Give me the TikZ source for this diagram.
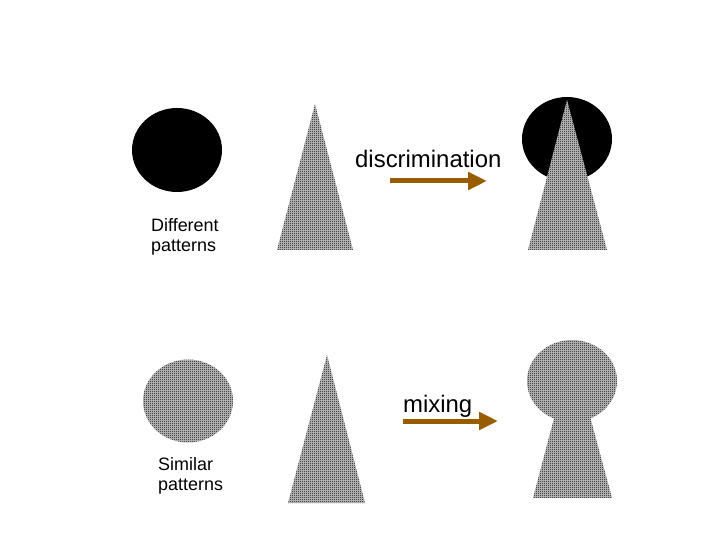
\documentclass[tikz,border=0pt]{standalone}
\usepackage{fontspec}
\setmainfont{Liberation Sans}
\usepackage{tikz}
\usetikzlibrary{arrows.meta, patterns}

\definecolor{marron}{RGB}{153,93,0}
\pgfdeclarepatternformonly{tramado}{\pgfpointorigin}{\pgfqpoint{2bp}{2bp}}{\pgfqpoint{2bp}{2bp}}{%
  \pgfpathrectangle{\pgfpointorigin}{\pgfqpoint{1bp}{1bp}}%
  \pgfpathrectangle{\pgfqpoint{1bp}{1bp}}{\pgfqpoint{1bp}{1bp}}%
  \pgfusepath{fill}}

\begin{document}
\begin{tikzpicture}[x=1bp, y=-1bp,
    trama/.style={fill=black!22, postaction={pattern=tramado}},
    flecha/.style={marron, line width=5bp, -{Triangle[length=19bp, width=17bp]}},
    etiqueta/.style={font=\fontsize{18}{20}\selectfont, align=left, inner sep=0pt},
    titulo/.style={font=\fontsize{24}{28}\selectfont, inner sep=0pt}]

    \useasboundingbox (0,0) rectangle (720,540);

    % Fila superior: patrones distintos
    \fill[black] (177,150) ellipse [x radius=45, y radius=42];
    \fill[trama] (315,104) -- (353,250) -- (277,250) -- cycle;
    \node[etiqueta, anchor=west] (distintos) at (151,237) {Different\\patterns};

    % Flecha de discriminacion
    \coordinate (d1) at (390,181);
    \coordinate (d2) at (487,181);
    \draw[flecha] (d1) -- (d2);
    \node[titulo, anchor=base west] (discr) at (355,168) {discrimination};

    % Resultado: circulo negro y triangulo encima
    \fill[black] (567,139) ellipse [x radius=45, y radius=42];
    \fill[trama] (567,100) -- (607,250) -- (528,250) -- cycle;

    % Fila inferior: patrones parecidos
    \fill[trama] (188,401) ellipse [x radius=45, y radius=41.5];
    \fill[trama] (327,355) -- (365,503) -- (288,503) -- cycle;
    \node[etiqueta, anchor=west] (similares) at (158,476) {Similar\\patterns};

    % Flecha de mezcla
    \coordinate (m1) at (403,421);
    \coordinate (m2) at (498,421);
    \draw[flecha] (m1) -- (m2);
    \node[titulo, anchor=base west] (mezcla) at (403,412) {mixing};

    % Resultado: cerradura
    \fill[trama] (572,381) ellipse [x radius=45, y radius=41];
    \fill[trama] (572,350) -- (612,498) -- (533,498) -- cycle;

\end{tikzpicture}
\end{document}
